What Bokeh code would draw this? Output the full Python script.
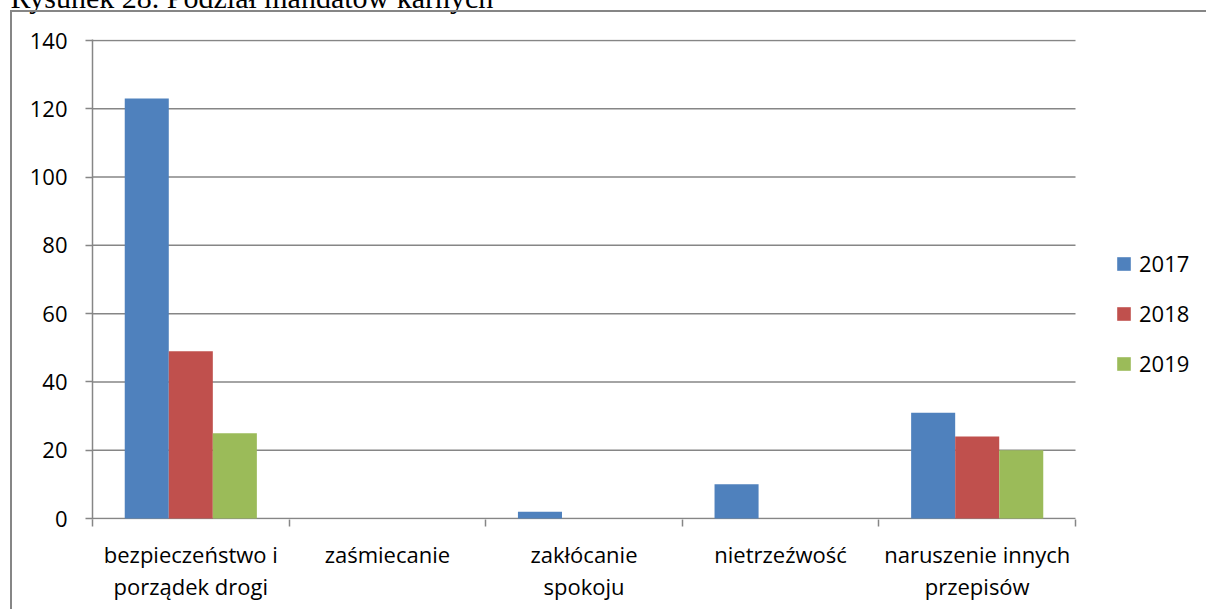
from bokeh.plotting import figure
from bokeh.models import (FixedTicker, ColumnDataSource, Legend, LegendItem,
                          Label, Range1d, InlineStyleSheet)
from bokeh.transform import dodge
from bokeh.embed import file_html
from bokeh.resources import INLINE

# ---- data ----
categories = ["bezpieczeństwo i\nporządek drogi", "zaśmiecanie",
              "zakłócanie\nspokoju", "nietrzeźwość",
              "naruszenie innych\nprzepisów"]
years = ["2017", "2018", "2019"]
v2017 = [123, 0, 2, 10, 31]
v2018 = [49, 0, 0, 0, 24]
v2019 = [25, 0, 0, 0, 20]
y_ticks = [0, 20, 40, 60, 80, 100, 120, 140]
y_max = 140
title_text = "Rysunek 28. Podział mandatów karnych"

colors = ["#4F81BD", "#C0504D", "#9BBB59"]
FONT = "Open Sans"
FS = "22px"
GRAY = "#868686"

# ---- layout (pixels) ----
W, H = 1206, 609
AX_L, AX_R, AX_T, AX_B = 92, 1075, 40, 518   # plot area of the value axis
n = len(categories)
ux = (AX_R - AX_L) / n          # px per category
uy = (AX_B - AX_T) / y_max      # px per unit
pad = 1 / uy                    # 1px headroom so edge lines are not clipped

pos = [i + 0.5 for i in range(n)]
src = ColumnDataSource(dict(pos=pos, v2017=v2017, v2018=v2018, v2019=v2019))

p = figure(width=W, height=H,
           x_range=Range1d(0, n + (W - AX_R) / ux),
           y_range=Range1d(-pad, y_max + pad),
           output_backend="svg", toolbar_location=None,
           min_border_left=AX_L, min_border_right=0,
           min_border_top=AX_T - 1, min_border_bottom=H - AX_B - 1)
p.outline_line_color = None
p.background_fill_color = "white"
p.border_fill_color = "white"
p.stylesheets = [InlineStyleSheet(css="""
:host::after { content: ""; position: absolute; left: 10px; top: 10px;
  right: 0px; bottom: 0px; border-left: 2px solid #868686;
  border-top: 2px solid #868686; pointer-events: none; }
""")]

# horizontal gridlines (value axis range only), incl. the category axis line at 0
p.segment(x0=[0] * len(y_ticks), x1=[n] * len(y_ticks), y0=y_ticks, y1=y_ticks,
          line_color=GRAY, line_width=1.5)

bw = 0.224
series = [("v2017", -bw), ("v2018", 0.0), ("v2019", bw)]
renderers = []
for (col, off), c in zip(series, colors):
    r = p.vbar(x=dodge("pos", off, range=p.x_range), top=col, width=bw, bottom=0,
               source=src, fill_color=c, line_color=None)
    renderers.append(r)

# y axis
p.yaxis.ticker = FixedTicker(ticks=y_ticks)
p.yaxis.axis_line_color = GRAY
p.yaxis.axis_line_width = 1.5
p.yaxis.major_tick_line_color = GRAY
p.yaxis.major_tick_line_width = 1.5
p.yaxis.major_tick_out = 7
p.yaxis.major_tick_in = 0
p.yaxis.minor_tick_line_color = None
p.yaxis.major_label_standoff = 18
p.yaxis.major_label_text_font = FONT
p.yaxis.major_label_text_font_size = FS
p.yaxis.major_label_text_color = "black"

# x axis: labels at centers, ticks at category boundaries
p.xaxis.ticker = FixedTicker(ticks=pos, minor_ticks=list(range(n + 1)))
p.xaxis.major_label_overrides = {pos[i]: categories[i] for i in range(n)}
p.xaxis.axis_line_color = None
p.xaxis.major_tick_line_color = None
p.xaxis.major_tick_out = 0
p.xaxis.major_tick_in = 0
p.xaxis.minor_tick_line_color = GRAY
p.xaxis.minor_tick_line_width = 1.5
p.xaxis.minor_tick_out = 7
p.xaxis.minor_tick_in = 0
p.xaxis.major_label_standoff = 12
p.xaxis.major_label_text_font = FONT
p.xaxis.major_label_text_font_size = FS
p.xaxis.major_label_text_color = "black"
p.xaxis.major_label_text_line_height = 1.07

p.xgrid.visible = False
p.ygrid.visible = False

# caption above the chart (cut off by the top of the page, as in the source)
p.add_layout(Label(x=10 - AX_L, y=42, x_units="screen", y_units="screen",
                   text=title_text, text_font="Liberation Serif",
                   text_font_size="30px", text_color="black",
                   text_baseline="alphabetic", text_align="left"), "above")

legend = Legend(items=[LegendItem(label=y, renderers=[r]) for y, r in zip(years, renderers)],
                location=(1115 - AX_L, 141), orientation="vertical",
                glyph_width=17, glyph_height=17, label_height=26, spacing=20,
                label_standoff=7, padding=0, margin=0,
                border_line_color=None, background_fill_alpha=0,
                label_text_font=FONT, label_text_font_size=FS,
                label_text_color="black")
p.add_layout(legend, "center")

open("out.html", "w").write(file_html(p, INLINE))
